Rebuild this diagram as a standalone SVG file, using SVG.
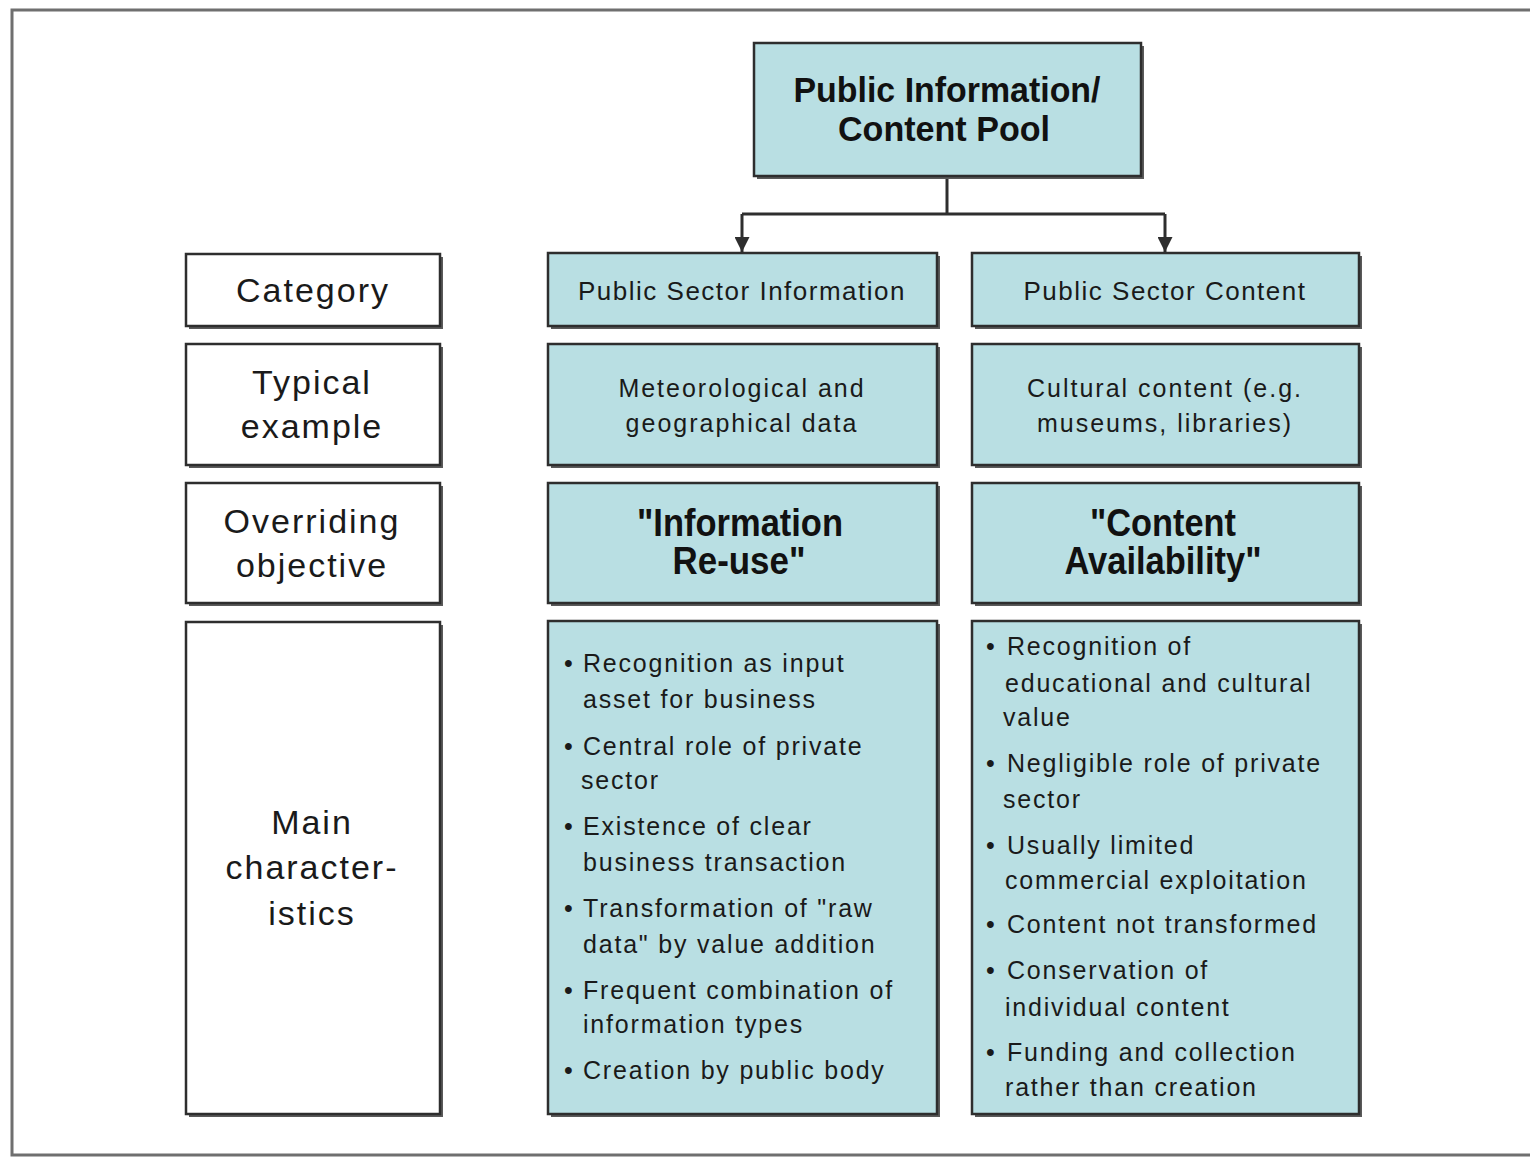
<svg xmlns="http://www.w3.org/2000/svg" width="1530" height="1157" viewBox="0 0 1530 1157">
<defs>
<style>
.frame{fill:#fff;stroke:#6f6f6f;stroke-width:3}
.shadow{fill:#5a5a5a}
.blue{fill:#b9dfe3;stroke:#2e2e2e;stroke-width:2.5}
.white{fill:#fff;stroke:#2e2e2e;stroke-width:2.5}
.lbl{font-family:"Liberation Sans",Arial,sans-serif;font-size:34px;letter-spacing:2px;fill:#1a1a1a;text-anchor:middle}
.hd{font-family:"Liberation Sans",Arial,sans-serif;font-weight:bold;fill:#111;text-anchor:middle}
.cat{font-family:"Liberation Sans",Arial,sans-serif;font-size:26px;letter-spacing:1.5px;fill:#1a1a1a;text-anchor:middle}
.ex{font-family:"Liberation Sans",Arial,sans-serif;font-size:25px;letter-spacing:2px;fill:#1a1a1a;text-anchor:middle}
.bl{font-family:"Liberation Sans",Arial,sans-serif;font-size:25px;letter-spacing:1.8px;fill:#1a1a1a}
.conn{fill:none;stroke:#2e2e2e;stroke-width:3}
</style>
<marker id="arr" viewBox="0 0 10 10" refX="10" refY="5" markerWidth="5" markerHeight="5" orient="auto" markerUnits="strokeWidth">
<path d="M0,0 L10,5 L0,10 Z" fill="#2e2e2e"/>
</marker>
</defs>
<rect class="frame" x="12" y="10" width="1530" height="1145"/>

<g id="connectors">
<path class="conn" d="M947,177 V214"/>
<path class="conn" d="M742,214 H1165"/>
<path class="conn" d="M742,214 V252" marker-end="url(#arr)"/>
<path class="conn" d="M1165,214 V252" marker-end="url(#arr)"/>
</g>

<g id="pool">
<rect class="shadow" x="757" y="46" width="387" height="133"/>
<rect class="blue" x="754" y="43" width="387" height="133"/>
<text class="hd" font-size="35" x="947" y="102" textLength="307" lengthAdjust="spacingAndGlyphs">Public Information/</text>
<text class="hd" font-size="35" x="944" y="141" textLength="212" lengthAdjust="spacingAndGlyphs">Content Pool</text>
</g>

<g id="lbl-category">
<rect class="shadow" x="189" y="257" width="254" height="72"/>
<rect class="white" x="186" y="254" width="254" height="72"/>
<text class="lbl" x="313" y="302">Category</text>
</g>
<g id="lbl-example">
<rect class="shadow" x="189" y="347" width="254" height="121"/>
<rect class="white" x="186" y="344" width="254" height="121"/>
<text class="lbl" x="312" y="394">Typical</text>
<text class="lbl" x="312" y="438">example</text>
</g>
<g id="lbl-objective">
<rect class="shadow" x="189" y="486" width="254" height="120"/>
<rect class="white" x="186" y="483" width="254" height="120"/>
<text class="lbl" x="312" y="533">Overriding</text>
<text class="lbl" x="312" y="577">objective</text>
</g>
<g id="lbl-main">
<rect class="shadow" x="189" y="625" width="254" height="492"/>
<rect class="white" x="186" y="622" width="254" height="492"/>
<text class="lbl" x="312" y="834">Main</text>
<text class="lbl" x="312" y="879">character-</text>
<text class="lbl" x="312" y="925">istics</text>
</g>

<g id="psi">
<rect class="shadow" x="551" y="256" width="389" height="73"/>
<rect class="blue" x="548" y="253" width="389" height="73"/>
<text class="cat" x="742" y="300">Public Sector Information</text>
</g>
<g id="psc">
<rect class="shadow" x="975" y="256" width="387" height="73"/>
<rect class="blue" x="972" y="253" width="387" height="73"/>
<text class="cat" x="1165" y="300">Public Sector Content</text>
</g>

<g id="psi-example">
<rect class="shadow" x="551" y="347" width="389" height="121"/>
<rect class="blue" x="548" y="344" width="389" height="121"/>
<text class="ex" x="742" y="397">Meteorological and</text>
<text class="ex" x="742" y="432">geographical data</text>
</g>
<g id="psc-example">
<rect class="shadow" x="975" y="347" width="387" height="121"/>
<rect class="blue" x="972" y="344" width="387" height="121"/>
<text class="ex" x="1165" y="397">Cultural content (e.g.</text>
<text class="ex" x="1165" y="432">museums, libraries)</text>
</g>

<g id="psi-objective">
<rect class="shadow" x="551" y="486" width="389" height="120"/>
<rect class="blue" x="548" y="483" width="389" height="120"/>
<text class="hd" font-size="38" x="740" y="536" textLength="206" lengthAdjust="spacingAndGlyphs">"Information</text>
<text class="hd" font-size="38" x="739" y="574" textLength="133" lengthAdjust="spacingAndGlyphs">Re-use"</text>
</g>
<g id="psc-objective">
<rect class="shadow" x="975" y="486" width="387" height="120"/>
<rect class="blue" x="972" y="483" width="387" height="120"/>
<text class="hd" font-size="38" x="1163" y="536" textLength="146" lengthAdjust="spacingAndGlyphs">"Content</text>
<text class="hd" font-size="38" x="1163" y="574" textLength="197" lengthAdjust="spacingAndGlyphs">Availability"</text>
</g>

<g id="psi-main">
<rect class="shadow" x="551" y="624" width="389" height="493"/>
<rect class="blue" x="548" y="621" width="389" height="493"/>
<text class="bl" y="672"><tspan x="564">•</tspan><tspan x="583">Recognition as input</tspan></text>
<text class="bl" x="583" y="708">asset for business</text>
<text class="bl" y="755"><tspan x="564">•</tspan><tspan x="583">Central role of private</tspan></text>
<text class="bl" x="581" y="789">sector</text>
<text class="bl" y="835"><tspan x="564">•</tspan><tspan x="583">Existence of clear</tspan></text>
<text class="bl" x="583" y="871">business transaction</text>
<text class="bl" y="917"><tspan x="564">•</tspan><tspan x="583">Transformation of "raw</tspan></text>
<text class="bl" x="583" y="953">data" by value addition</text>
<text class="bl" y="999"><tspan x="564">•</tspan><tspan x="583">Frequent combination of</tspan></text>
<text class="bl" x="583" y="1033">information types</text>
<text class="bl" y="1079"><tspan x="564">•</tspan><tspan x="583">Creation by public body</tspan></text>
</g>

<g id="psc-main">
<rect class="shadow" x="975" y="624" width="387" height="493"/>
<rect class="blue" x="972" y="621" width="387" height="493"/>
<text class="bl" y="655"><tspan x="986">•</tspan><tspan x="1007">Recognition of</tspan></text>
<text class="bl" x="1005" y="692">educational and cultural</text>
<text class="bl" x="1003" y="726">value</text>
<text class="bl" y="772"><tspan x="986">•</tspan><tspan x="1007">Negligible role of private</tspan></text>
<text class="bl" x="1003" y="808">sector</text>
<text class="bl" y="854"><tspan x="986">•</tspan><tspan x="1007">Usually limited</tspan></text>
<text class="bl" x="1005" y="889">commercial exploitation</text>
<text class="bl" y="933"><tspan x="986">•</tspan><tspan x="1007">Content not transformed</tspan></text>
<text class="bl" y="979"><tspan x="986">•</tspan><tspan x="1007">Conservation of</tspan></text>
<text class="bl" x="1005" y="1016">individual content</text>
<text class="bl" y="1061"><tspan x="986">•</tspan><tspan x="1007">Funding and collection</tspan></text>
<text class="bl" x="1005" y="1096">rather than creation</text>
</g>
</svg>
